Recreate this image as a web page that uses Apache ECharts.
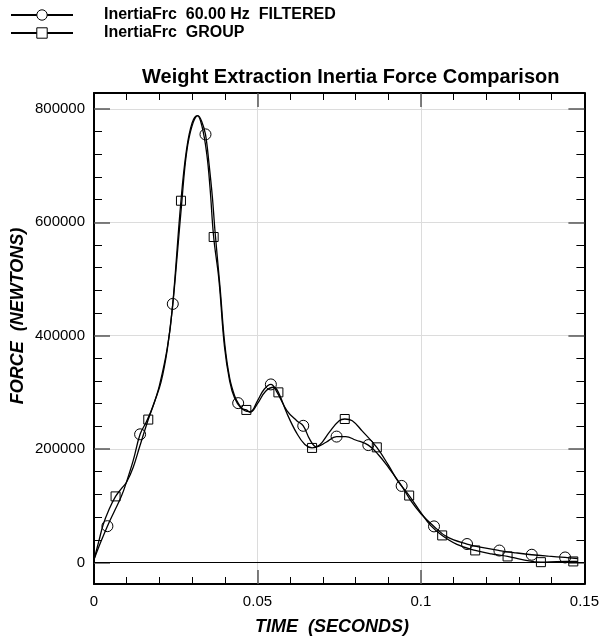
<!DOCTYPE html>
<html><head><meta charset="utf-8">
<script src="https://cdn.jsdelivr.net/npm/echarts@6/dist/echarts.min.js"></script>
<style>html,body{margin:0;padding:0;background:#fff}#c{width:602px;height:637px}</style>
</head><body><div id="c"></div>
<script>
const chartTitle = 'Weight Extraction Inertia Force Comparison';
const seriesNames = ['InertiaFrc  60.00 Hz  FILTERED', 'InertiaFrc  GROUP'];
const xAxisName = 'TIME  (SECONDS)';
const yAxisName = 'FORCE  (NEWTONS)';
const xTickValues = [0, 0.05, 0.1, 0.15];
const xInnerTickValues = [0.05, 0.1];
const yTickValues = [0, 200000, 400000, 600000, 800000];

const filteredTime = [0, 0.0020, 0.0041, 0.0062, 0.0084, 0.0100, 0.0120, 0.0141, 0.0161, 0.0180, 0.0200, 0.0224, 0.0241, 0.0255, 0.0268, 0.0283, 0.0300, 0.0318, 0.0330, 0.0341, 0.0352, 0.0362, 0.0370, 0.0386, 0.0400, 0.0415, 0.0430, 0.0441, 0.0460, 0.0478, 0.0500, 0.0520, 0.0541, 0.0560, 0.0590, 0.0620, 0.0640, 0.0660, 0.0680, 0.0710, 0.0742, 0.0770, 0.0800, 0.0839, 0.0870, 0.0900, 0.0941, 0.0970, 0.1000, 0.1040, 0.1080, 0.1141, 0.1190, 0.1240, 0.1290, 0.1339, 0.1390, 0.1441, 0.1480];
const filteredForce = [5000, 35000, 64000, 90000, 117000, 143000, 180000, 226000, 249000, 275000, 312000, 378000, 456000, 545000, 632000, 722000, 770000, 788000, 777000, 755000, 702000, 645000, 585000, 482000, 385000, 325000, 294000, 281000, 268000, 266000, 285000, 305000, 314000, 300000, 268000, 250000, 241000, 217000, 204000, 212000, 222000, 222000, 216000, 207000, 190000, 168000, 135000, 108000, 86000, 63600, 45000, 32500, 26000, 21000, 17000, 13600, 11000, 8800, 7000];
const filteredMarkerTime = [0.0041, 0.0141, 0.0241, 0.0341, 0.0441, 0.0541, 0.0640, 0.0742, 0.0839, 0.0941, 0.1040, 0.1141, 0.1240, 0.1339, 0.1441];

const groupTime = [0, 0.0015, 0.0028, 0.0045, 0.0066, 0.0085, 0.0100, 0.0120, 0.0140, 0.0166, 0.0185, 0.0205, 0.0224, 0.0240, 0.0266, 0.0283, 0.0300, 0.0316, 0.0330, 0.0345, 0.0355, 0.0366, 0.0382, 0.0399, 0.0415, 0.0430, 0.0450, 0.0466, 0.0478, 0.0500, 0.0525, 0.0550, 0.0564, 0.0590, 0.0620, 0.0645, 0.0667, 0.0690, 0.0720, 0.0750, 0.0767, 0.0790, 0.0820, 0.0865, 0.0900, 0.0930, 0.0964, 0.1000, 0.1030, 0.1065, 0.1110, 0.1166, 0.1215, 0.1265, 0.1310, 0.1367, 0.1415, 0.1466, 0.1480];
const groupForce = [5000, 38000, 66500, 92000, 116500, 131000, 142000, 168000, 205000, 252000, 283000, 318000, 375000, 450000, 638000, 728000, 775000, 788000, 770000, 720000, 660000, 574000, 499000, 381000, 320000, 290000, 272000, 269000, 265000, 280000, 302000, 309000, 300000, 263000, 228000, 208000, 202000, 207000, 230000, 250000, 253000, 250000, 232000, 203000, 172000, 143000, 118000, 88000, 65000, 47700, 32000, 21200, 15000, 10600, 5000, 500, 1500, 1800, 2000];
const groupMarkerTime = [0.0066, 0.0166, 0.0266, 0.0366, 0.0466, 0.0564, 0.0667, 0.0767, 0.0865, 0.0964, 0.1065, 0.1166, 0.1265, 0.1367, 0.1466];

const FONT = '"Liberation Sans", Arial, Helvetica, sans-serif';

function buildData(times, forces, markers) {
  return times.map(function (t, i) {
    if (markers.indexOf(t) >= 0) return { value: [t, forces[i]] };
    return { value: [t, forces[i]], symbol: 'none' };
  });
}

const chart = echarts.init(document.getElementById('c'), null, { renderer: 'canvas' });

function axisCommon(extra) {
  return Object.assign({
    type: 'value',
    axisLine: { show: true, onZero: false, lineStyle: { color: '#000', width: 2 } },
    axisTick: { show: true, inside: true, length: 14, lineStyle: { color: '#555', width: 1.5 } },
    minorTick: { show: true, splitNumber: 5, length: 7, lineStyle: { color: '#000', width: 1 } },
    splitLine: { show: false },
    axisLabel: { show: false }
  }, extra);
}

const legendItemStyle = { color: '#fff', borderColor: '#000', borderWidth: 1 };

const option = {
  animation: false,
  backgroundColor: '#fff',
  title: {
    text: chartTitle, left: 142, top: 67, padding: 0,
    textStyle: { fontFamily: FONT, fontSize: 20, fontWeight: 'bold', color: '#000' }
  },
  legend: {
    orient: 'vertical', left: 10, top: 7, padding: 0,
    itemWidth: 62, itemHeight: 13, itemGap: 2,
    selectedMode: false,
    data: [
      { name: seriesNames[0], itemStyle: legendItemStyle },
      { name: seriesNames[1], itemStyle: legendItemStyle }
    ],
    textStyle: { fontFamily: FONT, fontSize: 16, fontWeight: 'bold', color: '#000', padding: [0, 0, 0, 26] }
  },
  grid: { left: 94, right: 17, top: 93, bottom: 53, containLabel: false },
  xAxis: [
    axisCommon({
      position: 'bottom', min: 0, max: 0.15, interval: 0.05,
      axisTick: { show: true, inside: true, length: 14, customValues: xInnerTickValues, lineStyle: { color: '#555', width: 1.5 } },
      axisLabel: { show: true, customValues: xTickValues, margin: 10, fontFamily: FONT, fontSize: 15, color: '#000',
        formatter: function (v) { return String(v); } },
      splitLine: { show: true, lineStyle: { color: '#dcdcdc', width: 1 } }
    }),
    axisCommon({
      position: 'top', min: 0, max: 0.15, interval: 0.05,
      axisTick: { show: true, inside: true, length: 14, customValues: xInnerTickValues, lineStyle: { color: '#555', width: 1.5 } }
    })
  ],
  yAxis: [
    axisCommon({
      position: 'left', min: -38000, max: 828000, minInterval: 200000, maxInterval: 200000, splitNumber: 4,
      axisTick: { show: true, inside: true, length: 16, customValues: yTickValues, lineStyle: { color: '#555', width: 1.5 } },
      minorTick: { show: true, splitNumber: 5, length: 8, lineStyle: { color: '#000', width: 1 } },
      axisLabel: { show: true, customValues: yTickValues, margin: 9, fontFamily: FONT, fontSize: 15, color: '#000',
        formatter: function (v) { return String(v); } },
      splitLine: { show: true, lineStyle: { color: '#dcdcdc', width: 1 } }
    }),
    axisCommon({
      position: 'right', min: -38000, max: 828000, minInterval: 200000, maxInterval: 200000, splitNumber: 4,
      axisTick: { show: true, inside: true, length: 16, customValues: yTickValues, lineStyle: { color: '#555', width: 1.5 } },
      minorTick: { show: true, splitNumber: 5, length: 8, lineStyle: { color: '#000', width: 1 } }
    })
  ],
  graphic: [
    { type: 'text', x: 332, y: 627, silent: true,
      style: { text: xAxisName, font: 'italic bold 18px ' + FONT, fill: '#000', textAlign: 'center', textVerticalAlign: 'middle', align: 'center', verticalAlign: 'middle' } },
    { type: 'text', x: 18, y: 316, rotation: Math.PI / 2, silent: true,
      style: { text: yAxisName, font: 'italic bold 18px ' + FONT, fill: '#000', textAlign: 'center', textVerticalAlign: 'middle', align: 'center', verticalAlign: 'middle' } }
  ],
  series: [
    {
      name: seriesNames[0], type: 'line', xAxisIndex: 0, yAxisIndex: 0,
      data: buildData(filteredTime, filteredForce, filteredMarkerTime),
      smooth: 0.4, symbol: 'circle', symbolSize: 11, showSymbol: true, showAllSymbol: true,
      lineStyle: { color: '#000', width: 1.3 },
      itemStyle: { color: 'rgba(255,255,255,0)', borderColor: '#000', borderWidth: 1 },
      emphasis: { disabled: true },
      markLine: {
        silent: true, symbol: ['none', 'none'], label: { show: false },
        lineStyle: { color: '#000', width: 1, type: 'solid' },
        data: [{ yAxis: 0 }]
      }
    },
    {
      name: seriesNames[1], type: 'line', xAxisIndex: 0, yAxisIndex: 0,
      data: buildData(groupTime, groupForce, groupMarkerTime),
      smooth: 0.4, symbol: 'rect', symbolSize: 9, showSymbol: true, showAllSymbol: true,
      lineStyle: { color: '#000', width: 1.3 },
      itemStyle: { color: 'rgba(255,255,255,0)', borderColor: '#000', borderWidth: 1 },
      emphasis: { disabled: true }
    }
  ]
};
chart.setOption(option);
</script>
</body></html>
